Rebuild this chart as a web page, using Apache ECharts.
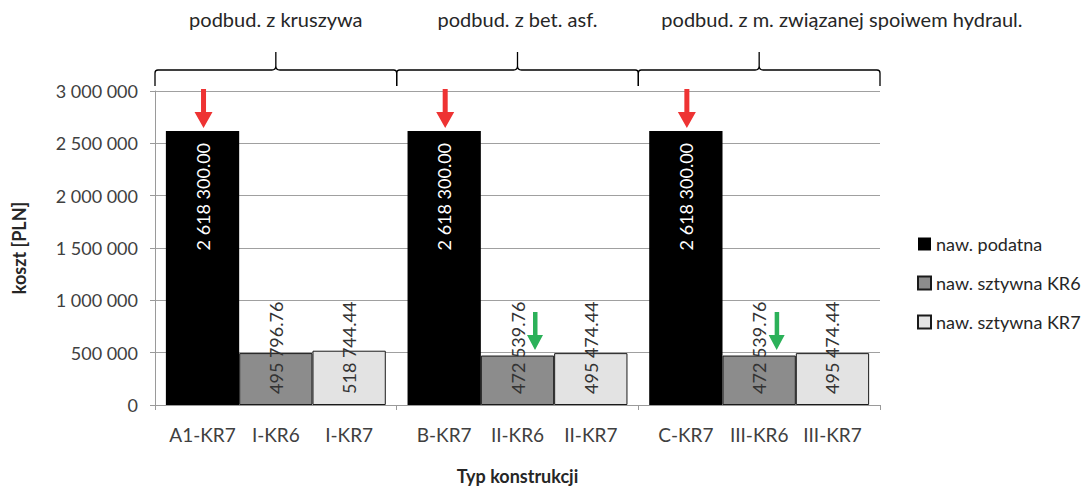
<!DOCTYPE html>
<html>
<head>
<meta charset="utf-8">
<script src="https://cdn.jsdelivr.net/npm/echarts@6/dist/echarts.min.js"></script>
<style>
html,body{margin:0;padding:0;background:#fff;}
#chart{width:1088px;height:490px;}
</style>
</head>
<body>
<div id="chart"></div>
<script>
// ---- data ----
const groupTitles = ['podbud. z kruszywa', 'podbud. z bet. asf.', 'podbud. z m. związanej spoiwem hydraul.'];
const barLabels = [
  ['A1-KR7', 'I-KR6', 'I-KR7'],
  ['B-KR7', 'II-KR6', 'II-KR7'],
  ['C-KR7', 'III-KR6', 'III-KR7']
];
const seriesNames = ['naw. podatna', 'naw. sztywna KR6', 'naw. sztywna KR7'];
const flexible = [2618300.00, 2618300.00, 2618300.00];
const rigidKR6 = [495796.76, 472539.76, 472539.76];
const rigidKR7 = [518744.44, 495474.44, 495474.44];
const yMin = 0, yMax = 3000000, yStep = 500000;
const redArrowGroups = [0, 1, 2];
const greenArrowGroups = [1, 2];

// ---- helpers ----
function spaced(intStr) { return intStr.replace(/\B(?=(\d{3})+(?!\d))/g, ' '); }
function fmt2(v) { const p = Number(v).toFixed(2).split('.'); return spaced(p[0]) + '.' + p[1]; }
function fmt0(v) { return spaced(String(Math.round(v))); }

const FONT = 'Lato';
const TXT = '#404040';
const DARK = '#262626';
const redArrow = 'path://M6.5,0 L11.5,0 L11.5,23 L18,23 L9,39 L0,23 L6.5,23 Z';
const greenArrow = 'path://M6,0 L10.5,0 L10.5,23 L16,23 L8,38 L0,23 L6,23 Z';

const chart = echarts.init(document.getElementById('chart'), null, {renderer: 'svg'});

const option = {
  animation: false,
  backgroundColor: '#ffffff',
  textStyle: {fontFamily: FONT},
  grid: {left: 155, right: 208, top: 91, bottom: 82, containLabel: false},
  legend: {
    orient: 'vertical', left: 912, top: 230,
    itemWidth: 13, itemHeight: 13, itemGap: 21,
    icon: 'rect',
    data: seriesNames,
    textStyle: {fontFamily: FONT, fontSize: 18, color: DARK}
  },
  xAxis: {
    type: 'category',
    data: groupTitles,
    name: 'Typ konstrukcji',
    nameLocation: 'middle',
    nameGap: 62,
    nameTextStyle: {fontFamily: FONT, fontWeight: 'bold', fontSize: 18, color: DARK},
    axisLine: {show: true, lineStyle: {color: '#9a9a9a', width: 1}},
    axisTick: {show: true, length: 5, lineStyle: {color: '#9a9a9a'}},
    splitLine: {show: false},
    axisLabel: {
      interval: 0,
      margin: 20,
      formatter: function (v, i) {
        return barLabels[i].map(function (t) { return '{b|' + t + '}'; }).join('');
      },
      rich: {b: {width: 73.3, align: 'center', fontFamily: FONT, fontSize: 19, color: TXT}}
    }
  },
  yAxis: {
    type: 'value',
    min: yMin, max: yMax, interval: yStep,
    name: 'koszt [PLN]',
    nameLocation: 'middle',
    nameGap: 127,
    nameTextStyle: {fontFamily: FONT, fontWeight: 'bold', fontSize: 18, color: DARK},
    axisLine: {show: true, lineStyle: {color: '#9a9a9a', width: 1}},
    axisTick: {show: true, length: 5, lineStyle: {color: '#9a9a9a'}},
    splitLine: {show: true, lineStyle: {color: '#a0a0a0', width: 1}},
    axisLabel: {margin: 17, fontFamily: FONT, fontSize: 18, color: TXT, formatter: fmt0}
  },
  series: [
    {
      name: seriesNames[0], type: 'bar', data: flexible,
      barGap: '0%', barCategoryGap: '9%',
      itemStyle: {color: '#000000'},
      label: {
        show: true, position: 'insideTop', distance: 12, rotate: 90,
        align: 'right', verticalAlign: 'middle',
        fontFamily: FONT, fontSize: 18, color: '#ffffff',
        formatter: function (p) { return fmt2(p.value); }
      },
      markPoint: {
        symbol: redArrow, symbolSize: [18, 39], symbolOffset: [1, -22.5],
        itemStyle: {color: '#ee3333'}, label: {show: false}, silent: true,
        data: redArrowGroups.map(function (g) { return {coord: [g, flexible[g]]}; })
      }
    },
    {
      name: seriesNames[1], type: 'bar', data: rigidKR6,
      barGap: '0%', barCategoryGap: '9%',
      itemStyle: {color: '#8c8c8c', borderColor: '#1a1a1a', borderWidth: 1},
      label: {
        show: true, position: 'insideBottom', distance: 11, rotate: 90,
        align: 'left', verticalAlign: 'middle',
        fontFamily: FONT, fontSize: 18, color: '#333333',
        formatter: function (p) { return fmt2(p.value); }
      },
      markPoint: {
        symbol: greenArrow, symbolSize: [16, 38], symbolOffset: [17.5, -24.5],
        itemStyle: {color: '#2bb159'}, label: {show: false}, silent: true,
        data: greenArrowGroups.map(function (g) { return {coord: [g, rigidKR6[g]]}; })
      }
    },
    {
      name: seriesNames[2], type: 'bar', data: rigidKR7,
      barGap: '0%', barCategoryGap: '9%',
      itemStyle: {color: '#e3e3e3', borderColor: '#1a1a1a', borderWidth: 1},
      label: {
        show: true, position: 'insideBottom', distance: 11, rotate: 90,
        align: 'left', verticalAlign: 'middle',
        fontFamily: FONT, fontSize: 18, color: '#333333',
        formatter: function (p) { return fmt2(p.value); }
      }
    },
    {
      name: 'braces', type: 'custom', silent: true, clip: false,
      data: groupTitles.map(function (t, i) { return [i, 0]; }),
      encode: {x: 0, y: 1},
      renderItem: function (params, api) {
        const idx = api.value(0);
        const cs = params.coordSys;
        const c = api.coord([idx, 0]);
        const bw = api.size([1, 0])[0];
        const x0 = c[0] - bw / 2, x1 = c[0] + bw / 2, xm = c[0];
        const top = cs.y;
        const yEnd = top - 5, yLine = top - 21, yCusp = top - 39;
        const d = 'M' + x0 + ',' + yEnd +
          ' L' + x0 + ',' + (yLine + 3) +
          ' Q' + x0 + ',' + yLine + ' ' + (x0 + 3) + ',' + yLine +
          ' L' + (xm - 4) + ',' + yLine +
          ' Q' + xm + ',' + yLine + ' ' + xm + ',' + (yLine - 4) +
          ' L' + xm + ',' + yCusp +
          ' L' + xm + ',' + (yLine - 4) +
          ' Q' + xm + ',' + yLine + ' ' + (xm + 4) + ',' + yLine +
          ' L' + (x1 - 3) + ',' + yLine +
          ' Q' + x1 + ',' + yLine + ' ' + x1 + ',' + (yLine + 3) +
          ' L' + x1 + ',' + yEnd;
        const isLast = idx === groupTitles.length - 1;
        return {
          type: 'group',
          children: [
            {type: 'path', shape: {pathData: d}, style: {stroke: '#000000', fill: 'none', lineWidth: 1.3}},
            {type: 'text', style: {
              text: groupTitles[idx],
              x: isLast ? x0 + 23 : xm, y: top - 72,
              align: isLast ? 'left' : 'center', verticalAlign: 'middle',
              fontFamily: FONT, fontSize: 20, fill: DARK
            }}
          ]
        };
      }
    }
  ]
};
chart.setOption(option);
</script>
</body>
</html>
